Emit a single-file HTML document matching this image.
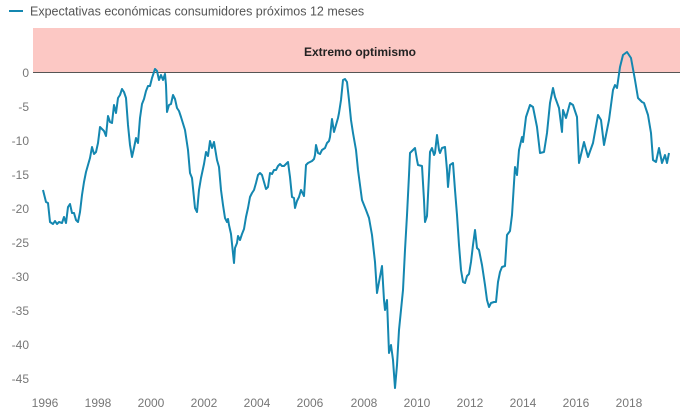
<!DOCTYPE html>
<html><head><meta charset="utf-8"><style>
body{margin:0;background:#fff;width:680px;height:418px;overflow:hidden}
svg{display:block;font-family:"Liberation Sans",sans-serif}
</style></head><body>
<svg width="680" height="418" viewBox="0 0 680 418">
<line x1="9" y1="11" x2="23" y2="11" stroke="#1487b0" stroke-width="2"/>
<text x="30" y="15.5" font-size="12.5" fill="#555">Expectativas económicas consumidores próximos 12 meses</text>
<rect x="33" y="28" width="647" height="44" fill="#fcc8c4"/>
<text x="360" y="56" font-size="12" font-weight="bold" fill="#222" text-anchor="middle">Extremo optimismo</text>
<line x1="33" y1="72.5" x2="680" y2="72.5" stroke="#555" stroke-width="1"/>
<g font-size="12" fill="#777" text-anchor="end">
<text x="29" y="77">0</text><text x="29" y="111">-5</text><text x="29" y="145">-10</text><text x="29" y="179">-15</text><text x="29" y="213">-20</text><text x="29" y="247">-25</text><text x="29" y="281">-30</text><text x="29" y="315">-35</text><text x="29" y="349">-40</text><text x="29" y="383">-45</text>
</g>
<g font-size="12" fill="#777" text-anchor="middle">
<text x="45" y="407">1996</text><text x="98" y="407">1998</text><text x="151" y="407">2000</text><text x="204" y="407">2002</text><text x="257" y="407">2004</text><text x="310" y="407">2006</text><text x="364" y="407">2008</text><text x="417" y="407">2010</text><text x="470" y="407">2012</text><text x="523" y="407">2014</text><text x="576" y="407">2016</text><text x="629" y="407">2018</text>
</g>
<polyline fill="none" stroke="#1487b0" stroke-width="2" stroke-linejoin="round" points="43,190 46,202 48,203 50,222 53,224 55,221 57,224 59,222 62,223 64,217 66,223 68,207 70,204 72,213 74,213 76,220 78,222 80,212 82,195 84,182 86,172 88,165 90,158 92,147 94,154 96,152 98,143 100,127 102,129 104,131 106,136 108,116 110,122 112,123 114,105 116,113 118,98 120,95 122,89 124,92 126,98 128,125 130,145 132,157 134,148 136,138 138,143 140,118 142,104 144,99 146,91 148,86 150,86 152,78 155,69 157,71 159,80 161,75 163,80 165,74 166,85 167,112 169,105 171,104 173,95 175,99 177,108 179,111 181,117 185,130 188,150 190,173 192,178 195,208 197,212 199,190 201,178 204,164 206,152 208,156 210,141 212,148 214,142 217,160 219,167 221,190 223,205 225,218 227,222 228,219 229,225 231,234 234,263 235,248 237,243 238,236 240,240 242,234 244,229 246,217 248,208 250,197 252,193 254,190 256,183 258,175 260,173 262,175 264,182 266,189 268,187 270,173 272,174 274,170 276,170 278,166 280,164 282,166 284,166 286,164 288,162 290,177 292,197 294,198 295,208 297,201 299,197 301,190 303,194 304,196 305,181 306,165 308,163 312,161 314,159 315,155 316,145 318,153 320,154 322,150 325,148 327,143 329,141 330,137 332,119 334,132 336,125 338,118 339,113 341,100 343,80 345,79 347,82 349,100 351,120 353,133 356,150 358,170 360,185 362,200 364,205 366,210 369,218 372,235 375,262 377,293 379,282 382,266 384,300 385,310 387,300 389,353 391,345 393,360 395,388 397,365 399,330 401,310 403,290 405,250 407,215 409,175 410,153 413,150 415,148 417,160 418,165 422,166 424,200 425,222 427,216 429,175 430,152 432,148 434,155 435,153 437,135 439,150 440,153 442,148 445,147 447,170 448,187 450,165 453,163 455,190 457,215 459,245 461,270 463,282 465,283 467,276 469,274 471,262 473,245 475,230 477,248 479,250 482,265 485,285 487,300 489,307 491,303 494,302 496,302 498,282 500,272 502,267 505,266 507,235 510,231 512,215 515,167 517,175 519,150 522,137 523,142 526,117 530,105 533,107 537,127 540,153 544,152 547,133 550,103 553,88 555,97 559,108 562,132 563,110 566,118 570,103 573,105 577,117 579,163 584,142 588,157 593,143 598,115 601,120 604,145 609,120 613,90 615,85 617,88 620,67 623,55 627,52 631,58 635,80 638,98 642,102 644,103 648,115 651,133 653,160 656,162 659,148 662,163 665,155 667,163 669,153"/>
</svg>
</body></html>
